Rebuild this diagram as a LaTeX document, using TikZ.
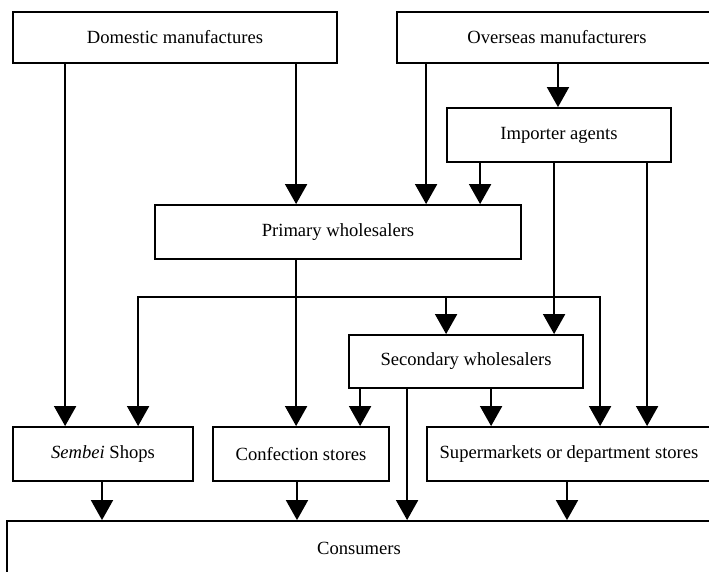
\documentclass[tikz,border=0pt]{standalone}
\usepackage{fontspec}
\setmainfont{Liberation Serif}
\usetikzlibrary{arrows.meta}
\usetikzlibrary{calc}
\tikzstyle{every node}+=[inner sep=0pt]
\tikzstyle{block} = [rectangle, draw, line width=0.9pt, font=\fontsize{9.3}{11}\selectfont, text centered, minimum height=27pt]
\tikzstyle{line} = [draw, line width=0.9pt, -{Triangle[length=10pt,width=11pt]}]

\begin{document}
\begin{tikzpicture}[x=0.5pt, y=-0.5pt]
            \useasboundingbox (0,0) rectangle (709,572);
            \clip (0,0) rectangle (709,572);
            % Place nodes
            \node [block, minimum width=162pt, minimum height=25.5pt] (dom) at (175,37.5) {Domestic manufactures};
            \node [block, minimum width=160pt, minimum height=25.5pt] (ovs) at (557,37.5) {Overseas manufacturers};
            \node [block, minimum width=112pt] (imp) at (559,135) {Importer agents};
            \node [block, minimum width=183pt] (prim) at (338,232) {Primary wholesalers};
            \node [block, minimum width=117pt, minimum height=26.5pt] (sec) at (466,361.5) {Secondary wholesalers};
            \node [block, minimum width=90pt] (sem) at (103,454) {\textit{Sembei} Shops};
            \node [block, minimum width=88pt] (conf) at (301,454) {Confection stores};
            \node [block, minimum width=142pt] (sup) at (569,454) {Supermarkets or department stores};
            \node [block, minimum width=352pt] (cons) at (359,548) {Consumers};
            % Connector columns
            \coordinate (d1) at ($(dom.south west)+(53,0)$);
            \coordinate (d2) at ($(dom.south west)+(284,0)$);
            \coordinate (o1) at ($(ovs.south west)+(30,0)$);
            \coordinate (o2) at ($(ovs.south)+(1,0)$);
            \coordinate (i1) at ($(imp.south west)+(34,0)$);
            \coordinate (i2) at ($(imp.south west)+(108,0)$);
            \coordinate (i3) at ($(imp.south west)+(201,0)$);
            \coordinate (p1) at ($(prim.south west)+(142,0)$);
            \coordinate (b) at ($(p1)+(0,37)$);
            \coordinate (s1) at ($(sec.south west)+(12,0)$);
            \coordinate (s2) at ($(sec.south west)+(59,0)$);
            \coordinate (s3) at ($(sec.south west)+(143,0)$);
            \coordinate (c1) at ($(sem.south)+(-1,0)$);
            \coordinate (c2) at ($(conf.south)+(-4,0)$);
            \coordinate (c3) at ($(sup.south)+(-2,0)$);
            % Draw edges
            \path [line] (d1) -- (d1 |- sem.north);
            \path [line] (d2) -- (d2 |- prim.north);
            \path [line] (o1) -- (o1 |- prim.north);
            \path [line] (o2) -- (o2 |- imp.north);
            \path [line] (i1) -- (i1 |- prim.north);
            \path [line] (i2) -- (i2 |- sec.north);
            \path [line] (i3) -- (i3 |- sup.north);
            \path [line] (p1) -- (p1 |- conf.north);
            \path [line] (b) -| ($(sem.north west)+(126,0)$);
            \path [line] (b) -| ($(sup.north west)+(174,0)$);
            \path [line] ($(b)+(150,0)$) -- ($(sec.north west)+(98,0)$);
            \path [line] (s1) -- (s1 |- conf.north);
            \path [line] (s2) -- (s2 |- cons.north);
            \path [line] (s3) -- (s3 |- sup.north);
            \path [line] (c1) -- (c1 |- cons.north);
            \path [line] (c2) -- (c2 |- cons.north);
            \path [line] (c3) -- (c3 |- cons.north);
          \end{tikzpicture}
\end{document}
